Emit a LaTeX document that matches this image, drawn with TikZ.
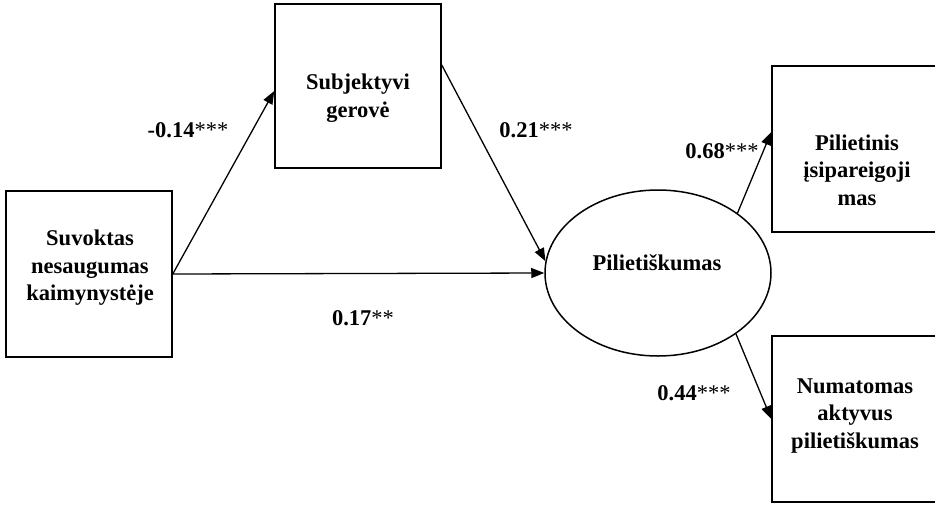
\documentclass[tikz,border=0pt]{standalone}
\usepackage{fontspec}
\setmainfont{Liberation Serif}
\usetikzlibrary{arrows.meta,shapes.geometric}
\begin{document}
\begin{tikzpicture}[x=1pt,y=1pt,
  box/.style={draw,line width=1.5pt,inner sep=0pt},
  txt/.style={align=center,font=\fontsize{22.5}{27.5}\selectfont\bfseries,inner sep=0pt},
  lab/.style={font=\fontsize{22.5}{27}\selectfont\bfseries,inner sep=0pt},
  arr/.style={line width=1.3pt,-{Triangle[length=13pt,width=10pt]}}]
\useasboundingbox (0,-504) rectangle (935,0);
\clip (0,-504) rectangle (935,0);
% boxes
\node[box,minimum width=166,minimum height=166] (L) at (89,-274) {};
\node[box,minimum width=166,minimum height=164] (T) at (358,-86) {};
\node[box,minimum width=178,minimum height=166] (TR) at (861,-149) {};
\node[box,minimum width=178,minimum height=166] (BR) at (861,-419) {};
\node[box,ellipse,minimum width=226,minimum height=166] (P) at (658,-273) {};
% texts
\node[txt] (Lt) at (90,-268) {Suvoktas\\nesaugumas\\kaimynystėje};
\node[txt] (Tt) at (358,-98) {Subjektyvi\\gerovė};
\node[txt] (TRt) at (857,-170) {Pilietinis\\įsipareigoji\\mas};
\node[txt] (BRt) at (855,-416) {Numatomas\\aktyvus\\pilietiškumas};
\node[txt] (Pt) at (657,-263) {Pilietiškumas};
% arrows
\draw[arr] (L.east) -- ([yshift=-5]T.west);
\draw[arr] ([yshift=21]T.east) -- (P.174);
\draw[arr] (L.east) -- (P.west);
\draw[arr] (P.37) -- ([yshift=17]TR.west);
\draw[arr] (P.-38) -- (BR.west);
% labels
\node[lab] (l1) at (188,-130) {-0.14\textmd{***}};
\node[lab] (l2) at (536,-130) {0.21\textmd{***}};
\node[lab] (l3) at (363,-318) {0.17\textmd{**}};
\node[lab] (l4) at (722,-151) {0.68\textmd{***}};
\node[lab] (l5) at (694,-393) {0.44\textmd{***}};
\end{tikzpicture}
\end{document}
